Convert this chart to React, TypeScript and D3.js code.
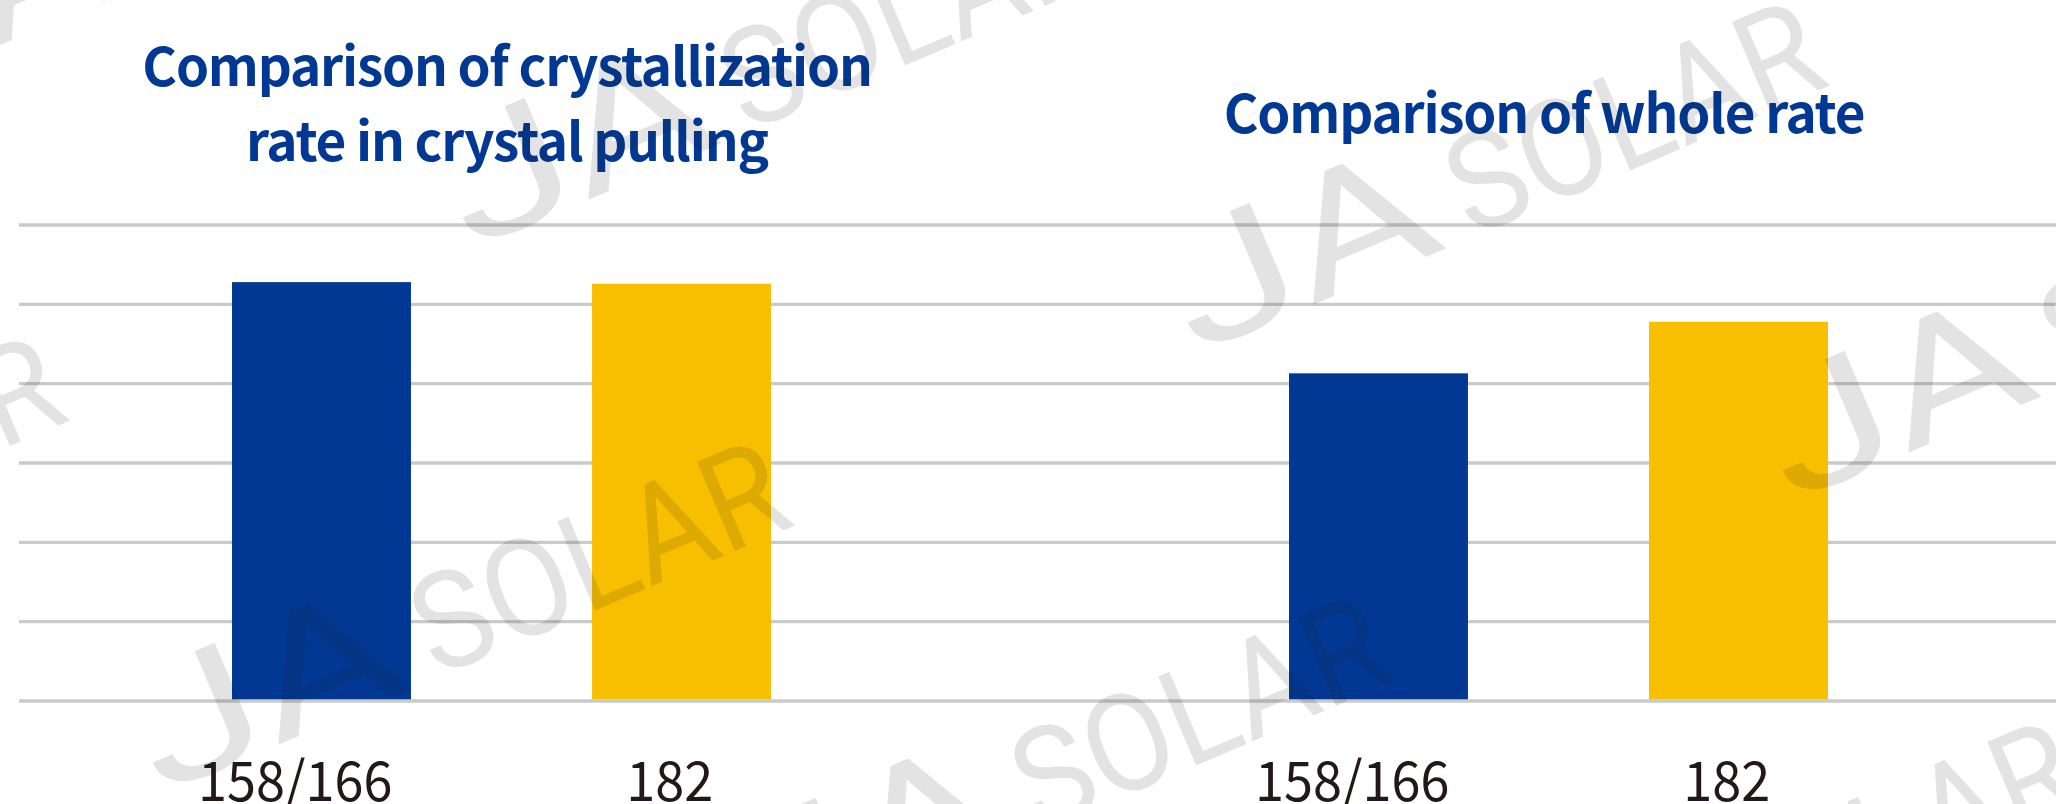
import React, { useEffect, useRef } from 'react';
import { select, scaleBand, scaleLinear, scaleOrdinal } from 'd3';

const W = 2056;
const H = 804;

const categories = ['158/166', '182'];
const crystallizationRate = [5.28, 5.26];
const wholeRate = [4.13, 4.78];
const gridValues = [0, 1, 2, 3, 4, 5, 6];
const crystallizationTitle = ['Comparison of crystallization', 'rate in crystal pulling'];
const wholeTitle = ['Comparison of whole rate'];

// where each "JA SOLAR" watermark starts (baseline of the J)
const watermarkOrigins = [
  [-127, 99], [-565, 690], [470, 250], [1195, 355],
  [160, 795], [761, 950], [1790, 503], [1450, 1075],
];

const App = () => {
  const svgRef = useRef<SVGSVGElement>(null);

  useEffect(() => {
    const svg = select(svgRef.current);
    svg.selectAll('*').remove();

    const yScale = scaleLinear().domain([0, 6]).range([701, 225]);
    const color = scaleOrdinal<string, string>().domain(categories).range(['#003893', '#f8be00']);

    svg.append('g')
      .selectAll('line')
      .data(gridValues)
      .join('line')
      .attr('x1', 19)
      .attr('x2', W)
      .attr('y1', d => yScale(d))
      .attr('y2', d => yScale(d))
      .attr('stroke', '#c9caca')
      .attr('stroke-width', 3.4);

    const panels = [
      { title: crystallizationTitle, values: crystallizationRate, range: [52, 951], titleX: 507, titleY: 86 },
      { title: wholeTitle, values: wholeRate, range: [1109, 2008], titleX: 1544, titleY: 133 },
    ];

    panels.forEach(p => {
      const xScale = scaleBand()
        .domain(categories)
        .range(p.range as [number, number])
        .paddingInner(0.503)
        .paddingOuter(0.5);

      const g = svg.append('g');

      g.selectAll('rect')
        .data(p.values)
        .join('rect')
        .attr('x', (d, i) => xScale(categories[i]))
        .attr('width', xScale.bandwidth())
        .attr('y', d => yScale(d))
        .attr('height', d => yScale(0) - yScale(d) - 1.7)
        .attr('fill', (d, i) => color(categories[i]));

      g.selectAll('text.label')
        .data(categories)
        .join('text')
        .attr('class', 'label')
        .attr('y', 801)
        .attr('font-family', '"Noto Sans CJK SC", "Noto Sans", sans-serif')
        .attr('font-size', 55)
        .attr('fill', '#231815')
        .text(d => d)
        .each(function (d) {
          // narrower digits, and the bar centre sits at ~63% of the label
          const len = (this as SVGTextElement).getComputedTextLength() * 0.95;
          select(this)
            .attr('textLength', len)
            .attr('lengthAdjust', 'spacingAndGlyphs')
            .attr('x', xScale(d) + xScale.bandwidth() / 2 - 0.635 * len);
        });

      g.selectAll('text.title')
        .data(p.title)
        .join('text')
        .attr('class', 'title')
        .attr('x', p.titleX)
        .attr('y', (d, i) => p.titleY + i * 74.7)
        .attr('text-anchor', 'middle')
        .attr('font-family', '"Noto Sans CJK SC", "Noto Sans", sans-serif')
        .attr('font-weight', 700)
        .attr('font-size', 53)
        .attr('letter-spacing', -1.2)
        .attr('fill', '#003893')
        .text(d => d);
    });

    const wm = svg.append('g')
      .attr('fill', '#231815')
      .attr('fill-opacity', 0.12)
      .attr('font-family', 'Roboto, sans-serif');

    watermarkOrigins.forEach(([ox, oy]) => {
      const t = wm.append('g').attr('transform', `translate(${ox},${oy}) rotate(-23)`);
      t.append('text')
        .attr('font-size', 167)
        .attr('textLength', 276)
        .attr('lengthAdjust', 'spacingAndGlyphs')
        .text('JA');
      t.append('text')
        .attr('x', 300)
        .attr('font-size', 136)
        .attr('textLength', 392)
        .attr('lengthAdjust', 'spacingAndGlyphs')
        .text('SOLAR');
    });
  }, []);

  return (
    <svg
      ref={svgRef}
      width={W}
      height={H}
      style={{ position: 'absolute', left: 0, top: 0, background: '#fff' }}
    />
  );
};

export default App;
